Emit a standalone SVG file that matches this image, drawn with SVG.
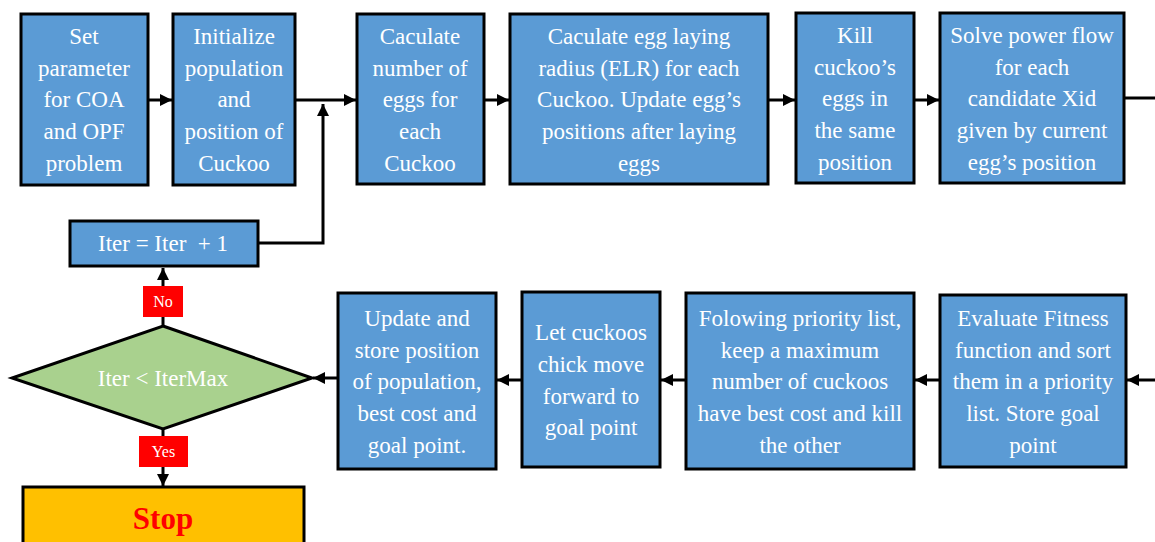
<svg xmlns="http://www.w3.org/2000/svg" width="1155" height="542" viewBox="0 0 1155 542">
<style>
.box{fill:#5B9BD5;stroke:#000;stroke-width:3}
.t{font-family:"Liberation Serif","Times New Roman",serif;font-size:23px;fill:#fff;text-anchor:middle}
.c{fill:none;stroke:#000;stroke-width:3}
.lbl{fill:#FF0000}
.lt{font-family:"Liberation Serif","Times New Roman",serif;font-size:16px;fill:#fff;text-anchor:middle}
</style>
<defs>
<marker id="ah" markerUnits="userSpaceOnUse" markerWidth="14" markerHeight="14" refX="12" refY="7" orient="auto">
<path d="M0,1 L12,7 L0,13 Z" fill="#000"/>
</marker>
</defs>
<rect width="1155" height="542" fill="#fff"/>
<g id="connectors">
<line class="c" x1="148" y1="100" x2="172" y2="100" marker-end="url(#ah)"/>
<line class="c" x1="295" y1="100" x2="356" y2="100" marker-end="url(#ah)"/>
<line class="c" x1="484" y1="100" x2="509" y2="100" marker-end="url(#ah)"/>
<line class="c" x1="768" y1="100" x2="795" y2="100" marker-end="url(#ah)"/>
<line class="c" x1="914" y1="100" x2="939" y2="100" marker-end="url(#ah)"/>
<line class="c" x1="1124" y1="98" x2="1155" y2="98"/>
<polyline class="c" points="258,243 323,243 323,104" marker-end="url(#ah)"/>
<line class="c" x1="163" y1="326" x2="163" y2="268" marker-end="url(#ah)"/>
<line class="c" x1="163" y1="429" x2="163" y2="486" marker-end="url(#ah)"/>
<line class="c" x1="1155" y1="380" x2="1127" y2="380" marker-end="url(#ah)"/>
<line class="c" x1="940" y1="380" x2="915" y2="380" marker-end="url(#ah)"/>
<line class="c" x1="686" y1="380" x2="661" y2="380" marker-end="url(#ah)"/>
<line class="c" x1="522" y1="380" x2="497" y2="380" marker-end="url(#ah)"/>
<line class="c" x1="338" y1="378" x2="313" y2="378" marker-end="url(#ah)"/>
</g>
<g id="n1">
<rect class="box" x="21" y="14" width="127" height="171"/>
<text class="t" x="84"><tspan x="84" y="44">Set</tspan><tspan x="84" y="76">parameter</tspan><tspan x="84" y="107">for COA</tspan><tspan x="84" y="139">and OPF</tspan><tspan x="84" y="171">problem</tspan></text>
</g>
<g id="n2">
<rect class="box" x="173" y="14" width="122" height="171"/>
<text class="t"><tspan x="234" y="44">Initialize</tspan><tspan x="234" y="76">population</tspan><tspan x="234" y="107">and</tspan><tspan x="234" y="139">position of</tspan><tspan x="234" y="171">Cuckoo</tspan></text>
</g>
<g id="n3">
<rect class="box" x="357" y="14" width="127" height="170"/>
<text class="t"><tspan x="420" y="44">Caculate</tspan><tspan x="420" y="76">number of</tspan><tspan x="420" y="107">eggs for</tspan><tspan x="420" y="139">each</tspan><tspan x="420" y="171">Cuckoo</tspan></text>
</g>
<g id="n4">
<rect class="box" x="510" y="14" width="258" height="170"/>
<text class="t"><tspan x="639" y="44">Caculate egg laying</tspan><tspan x="639" y="76">radius (ELR) for each</tspan><tspan x="639" y="107">Cuckoo. Update egg’s</tspan><tspan x="639" y="139">positions after laying</tspan><tspan x="639" y="171">eggs</tspan></text>
</g>
<g id="n5">
<rect class="box" x="796" y="13" width="118" height="170"/>
<text class="t"><tspan x="855" y="43">Kill</tspan><tspan x="855" y="75">cuckoo’s</tspan><tspan x="855" y="106">eggs in</tspan><tspan x="855" y="138">the same</tspan><tspan x="855" y="170">position</tspan></text>
</g>
<g id="n6">
<rect class="box" x="940" y="13" width="184" height="170"/>
<text class="t"><tspan x="1032" y="43">Solve power flow</tspan><tspan x="1032" y="75">for each</tspan><tspan x="1032" y="106">candidate Xid</tspan><tspan x="1032" y="138">given by current</tspan><tspan x="1032" y="170">egg’s position</tspan></text>
</g>
<g id="n7">
<rect class="box" x="940" y="295" width="186" height="172"/>
<text class="t"><tspan x="1033" y="326">Evaluate Fitness</tspan><tspan x="1033" y="358">function and sort</tspan><tspan x="1033" y="389">them in a priority</tspan><tspan x="1033" y="421">list. Store goal</tspan><tspan x="1033" y="453">point</tspan></text>
</g>
<g id="n8">
<rect class="box" x="686" y="293" width="228" height="176"/>
<text class="t"><tspan x="800" y="326">Folowing priority list,</tspan><tspan x="800" y="358">keep a maximum</tspan><tspan x="800" y="389">number of cuckoos</tspan><tspan x="800" y="421">have best cost and kill</tspan><tspan x="800" y="453">the other</tspan></text>
</g>
<g id="n9">
<rect class="box" x="522" y="292" width="138" height="175"/>
<text class="t"><tspan x="591" y="340">Let cuckoos</tspan><tspan x="591" y="372">chick move</tspan><tspan x="591" y="404">forward to</tspan><tspan x="591" y="435">goal point</tspan></text>
</g>
<g id="n10">
<rect class="box" x="338" y="293" width="158" height="176"/>
<text class="t"><tspan x="417" y="326">Update and</tspan><tspan x="417" y="358">store position</tspan><tspan x="417" y="389">of population,</tspan><tspan x="417" y="421">best cost and</tspan><tspan x="417" y="453">goal point.</tspan></text>
</g>
<g id="n11">
<polygon points="163,326 312,378 163,429 12,378" fill="#A9D18E" stroke="#000" stroke-width="3"/>
<text class="t" x="163" y="386">Iter &lt; IterMax</text>
</g>
<g id="n12">
<rect class="box" x="70" y="221" width="188" height="45"/>
<text class="t" x="163" y="251" xml:space="preserve">Iter = Iter  + 1</text>
</g>
<g id="lblNo">
<rect class="lbl" x="143" y="286" width="40" height="31"/>
<text class="lt" x="163" y="307">No</text>
</g>
<g id="lblYes">
<rect class="lbl" x="139" y="436" width="49" height="31"/>
<text class="lt" x="163.5" y="457">Yes</text>
</g>
<g id="n13">
<rect x="23" y="487" width="281" height="70" fill="#FFC000" stroke="#000" stroke-width="3"/>
<text x="163" y="529" font-family="Liberation Serif, Times New Roman, serif" font-size="31" font-weight="bold" fill="#FF0000" text-anchor="middle">Stop</text>
</g>
</svg>
